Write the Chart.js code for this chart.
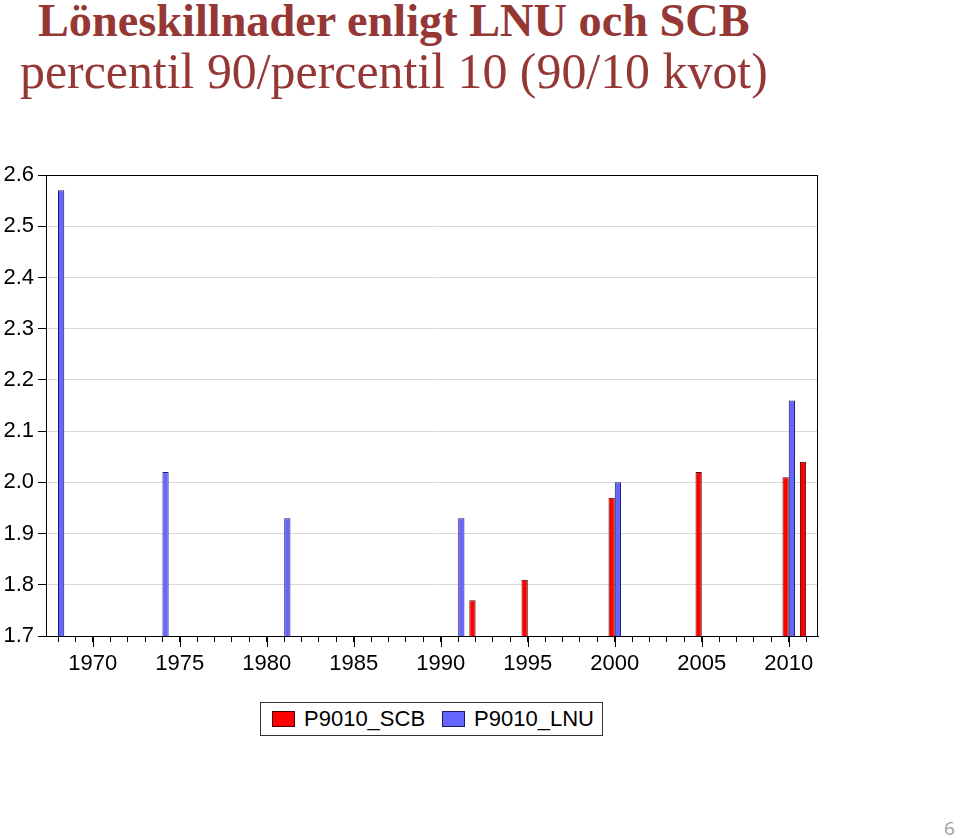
<!DOCTYPE html>
<html>
<head>
<meta charset="utf-8">
<script src="https://cdn.jsdelivr.net/npm/chart.js@4/dist/chart.umd.min.js"></script>
<style>
    body { margin: 0; width: 960px; height: 838px; background: #fff; position: relative; overflow: hidden; font-family: "Liberation Sans", Arial, sans-serif; }
    .title { position: absolute; color: #953735; font-family: "Liberation Serif", serif; white-space: nowrap; transform-origin: 0 0; line-height: 1; }
    #title1 { left: 38px; top: -3px; font-size: 47px; font-weight: bold; }
    #title2 { left: 20px; top: 46px; font-size: 50px; }
    #chart { position: absolute; left: 0; top: 0; }
    #legend { position: absolute; left: 260px; top: 702px; width: 341px; height: 32px; border: 1px solid #333; display: flex; align-items: center; font-size: 22px; color: #000; }
    #legend .item { display: flex; align-items: center; margin-left: 11px; }
    #legend .swatch { width: 23px; height: 16px; margin-right: 9px; box-sizing: border-box; }
    #page { position: absolute; left: 944px; top: 815px; font-size: 19px; color: #a0a0a0; font-family: "Open Sans", sans-serif; }
</style>
</head>
<body>
<div class="title" id="title1">Löneskillnader enligt LNU och SCB</div>
<div class="title" id="title2">percentil 90/percentil 10 (90/10 kvot)</div>
<canvas id="chart" width="960" height="700"></canvas>
<div id="legend"></div>
<div id="page">6</div>
<script>
// P90/P10 ratio
const scbYears = [1992, 1995, 2000, 2005, 2010, 2011];
const scbValues = [1.77, 1.81, 1.97, 2.02, 2.01, 2.04];
const lnuYears = [1968, 1974, 1981, 1991, 2000, 2010];
const lnuValues = [2.57, 2.02, 1.93, 1.93, 2.00, 2.16];
const seriesNames = ['P9010_SCB', 'P9010_LNU'];
const yTicks = { min: 1.7, max: 2.6, step: 0.1 };

function fitWidth(el, target) {
    el.style.transform = `scaleX(${target / el.offsetWidth})`;
}
fitWidth(document.getElementById('title1'), 712);
fitWidth(document.getElementById('title2'), 748);

function toPoints(years, values) {
    return years.map((y, i) => ({ x: y, y: values[i] }));
}

// frame round the plot + longer ticks at labelled years
const frameAndTicks = {
    id: 'frameAndTicks',
    afterDraw(chart) {
        const { ctx, chartArea: a, scales: { x } } = chart;
        ctx.save();
        ctx.strokeStyle = '#000';
        ctx.lineWidth = 1;
        ctx.strokeRect(a.left + 0.5, a.top + 0.5, a.right - a.left - 1, a.bottom - a.top);
        ctx.beginPath();
        x.ticks.forEach(t => {
            if (Math.round(t.value) % 5 === 0) {
                const px = Math.round(x.getPixelForValue(t.value)) + 0.5;
                ctx.moveTo(px, a.bottom);
                ctx.lineTo(px, a.bottom + 11);
            }
        });
        ctx.stroke();
        ctx.restore();
    }
};

const axisFont = { size: 22, family: "Liberation Sans" };

const chart = new Chart(document.getElementById('chart'), {
    type: 'bar',
    data: {
        datasets: [
            {
                label: seriesNames[0],
                data: toPoints(scbYears, scbValues),
                backgroundColor: '#ff0000',
                borderColor: '#4a0000',
                borderWidth: 1,
            },
            {
                label: seriesNames[1],
                data: toPoints(lnuYears, lnuValues),
                backgroundColor: '#6666ff',
                borderColor: '#1c1c66',
                borderWidth: 1,
            },
        ],
    },
    options: {
        responsive: false,
        animation: false,
        categoryPercentage: 0.72,
        barPercentage: 1,
        layout: { padding: { top: 175, right: 142, bottom: 24, left: 0 } },
        plugins: {
            legend: { display: false },
            tooltip: { enabled: false },
        },
        scales: {
            x: {
                type: 'linear',
                offset: false,
                min: 1967.31,
                max: 2011.68,
                afterFit: scale => { scale.height = 40; },
                border: { color: '#000' },
                grid: {
                    offset: false,
                    drawOnChartArea: false,
                    drawTicks: true,
                    tickLength: 6,
                    tickColor: '#000',
                },
                ticks: {
                    stepSize: 1,
                    includeBounds: false,
                    autoSkip: false,
                    maxRotation: 0,
                    padding: 9,
                    color: '#000',
                    font: axisFont,
                    callback: v => (Math.round(v) % 5 === 0 ? String(Math.round(v)) : ''),
                },
            },
            y: {
                min: yTicks.min,
                max: yTicks.max,
                afterFit: scale => { scale.width = 46; },
                border: { color: '#000' },
                grid: {
                    color: '#d9d9d9',
                    tickColor: '#000',
                    tickLength: 8,
                },
                ticks: {
                    stepSize: yTicks.step,
                    padding: 4,
                    color: '#000',
                    font: axisFont,
                    callback: v => v.toFixed(1),
                },
            },
        },
    },
    plugins: [frameAndTicks],
});

// legend box under the chart
const legend = document.getElementById('legend');
chart.data.datasets.forEach((ds, i) => {
    const item = document.createElement('div');
    item.className = 'item';
    if (i > 0) item.style.marginLeft = '17px';
    item.innerHTML = `<span class="swatch" style="background:${ds.backgroundColor};border:1px solid ${ds.borderColor}"></span>${ds.label}`;
    legend.appendChild(item);
});
</script>
</body>
</html>
